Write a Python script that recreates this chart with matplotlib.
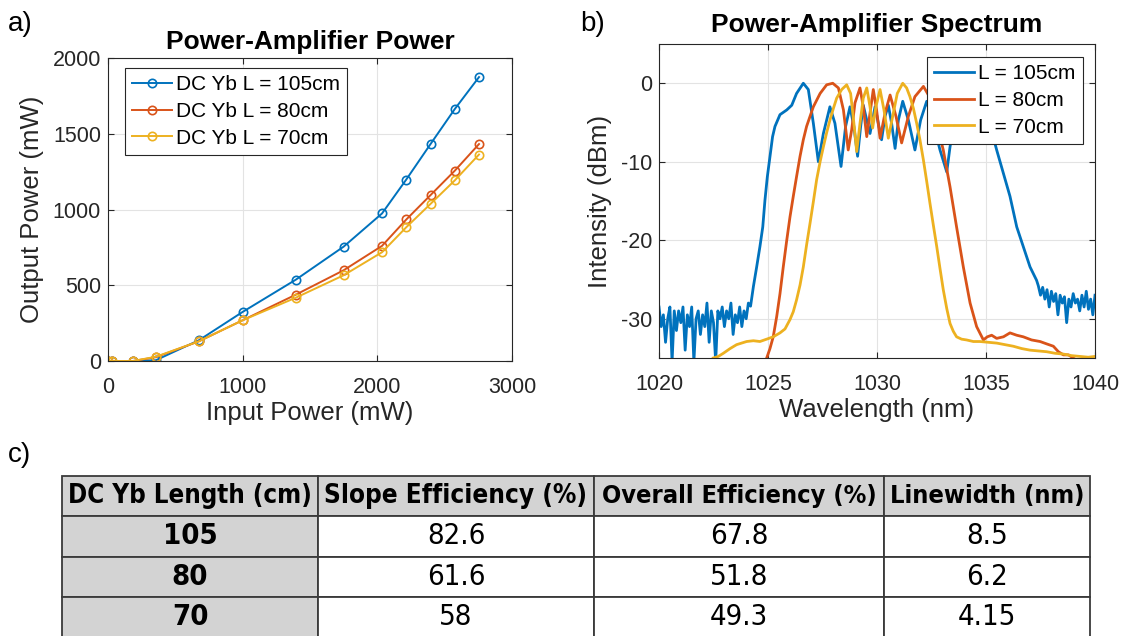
import matplotlib
matplotlib.use("Agg")
import matplotlib.pyplot as plt
import numpy as np

plt.rcParams["font.family"] = ["Liberation Sans", "DejaVu Sans"]
plt.rcParams["axes.unicode_minus"] = False

# ---- panel a: amplifier output power ----
p_in = [0, 30, 185, 355, 675, 1000, 1395, 1750, 2035, 2215, 2395, 2575, 2755]
p_out_105 = [0, 0, 0, 5, 137, 324, 537, 755, 974, 1198, 1432, 1663, 1874]
p_out_80 = [0, 0, 0, 25, 130, 269, 438, 599, 760, 934, 1095, 1256, 1432]
p_out_70 = [0, 0, 0, 28, 130, 269, 418, 566, 718, 883, 1037, 1192, 1363]

# ---- panel b: spectra ----
wl_105 = [1020.0, 1020.1, 1020.2, 1020.3, 1020.4, 1020.5, 1020.6, 1020.7, 1020.8, 1020.9,
          1021.0, 1021.1, 1021.2, 1021.3, 1021.4, 1021.5, 1021.6, 1021.7, 1021.8, 1021.9,
          1022.0, 1022.1, 1022.2, 1022.3, 1022.4, 1022.5, 1022.6, 1022.7, 1022.8, 1022.9,
          1023.0, 1023.1, 1023.2, 1023.3, 1023.4, 1023.5, 1023.6, 1023.7, 1023.8, 1023.9,
          1024.0, 1024.1, 1024.2, 1024.33, 1024.48, 1024.63, 1024.76, 1024.86, 1024.97, 1025.09,
          1025.21, 1025.32, 1025.55, 1025.86, 1026.09, 1026.31, 1026.62, 1026.85, 1027.08, 1027.31,
          1027.54, 1027.84, 1028.07, 1028.35, 1028.56, 1028.76, 1028.94, 1029.11, 1029.25, 1029.37,
          1029.53, 1029.68, 1029.91, 1030.06, 1030.21, 1030.37, 1030.52, 1030.67, 1030.83, 1030.98,
          1031.18, 1031.44, 1031.74, 1032.0, 1032.28, 1032.58, 1032.89, 1033.2, 1033.35, 1033.6,
          1033.9, 1034.2, 1034.5, 1034.9, 1035.2, 1035.49, 1035.8, 1036.1, 1036.41, 1036.71,
          1037.02, 1037.32, 1037.4, 1037.5, 1037.6, 1037.7, 1037.8, 1037.9, 1038.0, 1038.1,
          1038.2, 1038.3, 1038.4, 1038.5, 1038.6, 1038.7, 1038.8, 1038.9, 1039.0, 1039.1,
          1039.2, 1039.3, 1039.4, 1039.5, 1039.6, 1039.7, 1039.8, 1039.9, 1040.0]
db_105 = [-28.5, -31.0, -29.5, -33.0, -30.0, -28.5, -35.5, -29.0, -31.5, -29.0,
          -30.5, -28.5, -34.0, -29.5, -31.0, -28.5, -35.5, -30.0, -29.0, -32.0,
          -29.5, -31.0, -28.0, -33.0, -29.0, -30.5, -35.5, -29.0, -30.0, -28.5,
          -31.0, -29.0, -30.0, -28.0, -32.0, -29.5, -30.5, -28.5, -31.0, -29.0,
          -30.0, -28.0, -28.4, -25.9, -23.4, -20.8, -18.3, -14.9, -11.9, -9.3,
          -6.8, -5.5, -4.0, -3.4, -2.8, -1.3, 0.0, -0.8, -5.1, -10.0,
          -6.4, -3.0, -5.1, -10.6, -5.5, -3.0, -5.5, -9.3, -5.5, -2.8,
          -4.7, -6.4, -3.0, -5.1, -7.2, -4.2, -2.8, -5.1, -8.3, -4.7,
          -2.3, -4.7, -8.5, -4.7, -2.3, -5.1, -8.5, -11.3, -8.1, -4.0,
          -1.0, 0.0, -1.5, -3.5, -5.5, -8.5, -11.5, -14.4, -18.3, -20.8,
          -23.4, -25.1, -25.8, -27.0, -26.0, -27.5, -26.3, -28.5, -26.5, -27.8,
          -26.8, -29.5, -27.0, -28.0, -27.2, -30.5, -27.5, -28.5, -26.8, -28.0,
          -27.5, -29.0, -27.0, -28.5, -26.5, -28.8, -27.5, -29.5, -27.0]

wl_80 = [1024.94, 1025.09, 1025.24, 1025.4, 1025.55, 1025.7, 1025.86, 1026.01, 1026.16, 1026.31,
         1026.47, 1026.62, 1026.77, 1026.93, 1027.08, 1027.39, 1027.69, 1027.97, 1028.23, 1028.46,
         1028.68, 1028.84, 1028.99, 1029.22, 1029.37, 1029.53, 1029.68, 1029.83, 1029.98, 1030.14,
         1030.37, 1030.6, 1030.87, 1031.13, 1031.44, 1031.74, 1032.13, 1032.4, 1032.66, 1033.04,
         1033.35, 1033.65, 1033.96, 1034.27, 1034.57, 1034.88, 1035.06, 1035.26, 1035.49, 1035.8,
         1036.1, 1036.41, 1036.71, 1037.09, 1037.48, 1037.78, 1038.09, 1038.32, 1038.55, 1038.78,
         1039.0, 1039.3]
db_80 = [-35.0, -33.8, -32.3, -29.7, -26.8, -23.4, -20.0, -17.0, -14.4, -11.9,
         -9.3, -7.2, -5.5, -4.2, -3.0, -1.3, -0.2, 0.0, -0.6, -3.4,
         -8.5, -5.9, -2.5, -0.6, -3.0, -6.8, -3.8, -0.8, -3.4, -7.0,
         -3.8, -1.5, -4.2, -7.6, -4.2, -1.7, -0.4, -1.7, -4.2, -8.5,
         -13.2, -18.3, -23.4, -28.0, -31.0, -32.7, -32.3, -32.1, -32.5, -32.3,
         -31.8, -32.1, -32.3, -32.7, -32.9, -33.2, -33.5, -34.2, -34.6, -34.6,
         -35.0, -35.5]

wl_70 = [1022.49, 1022.72, 1022.95, 1023.26, 1023.56, 1024.02, 1024.33, 1024.63, 1024.94, 1025.24,
         1025.55, 1025.78, 1026.01, 1026.16, 1026.31, 1026.47, 1026.62, 1026.77, 1026.93, 1027.08,
         1027.23, 1027.39, 1027.54, 1027.69, 1027.84, 1028.0, 1028.15, 1028.38, 1028.61, 1028.79,
         1028.94, 1029.07, 1029.22, 1029.37, 1029.53, 1029.68, 1029.8, 1029.95, 1030.14, 1030.32,
         1030.52, 1030.72, 1030.93, 1031.18, 1031.36, 1031.51, 1031.67, 1031.82, 1031.97, 1032.13,
         1032.28, 1032.43, 1032.58, 1032.74, 1032.89, 1033.04, 1033.2, 1033.35, 1033.5, 1033.65,
         1033.88, 1034.11, 1034.42, 1034.72, 1035.11, 1035.49, 1035.87, 1036.25, 1036.64, 1037.02,
         1037.4, 1037.78, 1038.17, 1038.55, 1038.93, 1039.31, 1039.69, 1040.0]
db_70 = [-35.0, -34.8, -34.4, -33.8, -33.3, -32.9, -32.8, -32.9, -32.6, -32.3,
         -31.8, -31.3, -30.1, -29.1, -27.6, -25.7, -23.4, -20.6, -17.8, -15.1,
         -12.3, -10.0, -8.1, -6.3, -4.7, -3.2, -1.9, -0.8, -0.2, -1.3,
         -5.1, -8.7, -5.1, -1.9, -0.6, -3.0, -5.7, -3.0, -0.8, -3.4,
         -7.0, -4.2, -1.3, 0.0, -0.6, -1.7, -3.2, -5.1, -7.2, -9.8,
         -12.5, -15.3, -18.0, -20.8, -23.6, -26.3, -28.7, -30.6, -31.6, -32.3,
         -32.6, -32.7, -32.9, -32.9, -33.0, -33.1, -33.3, -33.5, -33.8, -34.0,
         -34.1, -34.2, -34.4, -34.5, -34.7, -34.8, -34.9, -34.8]

# ---- panel c: table ----
col_labels = ["DC Yb Length (cm)", "Slope Efficiency (%)", "Overall Efficiency (%)", "Linewidth (nm)"]
fiber_len = ["105", "80", "70"]
slope_eff = ["82.6", "61.6", "58"]
overall_eff = ["67.8", "51.8", "49.3"]
linewidth = ["8.5", "6.2", "4.15"]

C1, C2, C3 = "#0072BD", "#D95319", "#EDB120"
AXC = "#262626"
W, H = 1127, 636


def fa(x0, y0, x1, y1):
    # pixel box (top-left origin) -> figure fraction rect
    return [x0 / W, 1 - y1 / H, (x1 - x0) / W, (y1 - y0) / H]


def matlab_axes(ax):
    for s in ax.spines.values():
        s.set_color(AXC)
        s.set_linewidth(0.8)
    ax.tick_params(direction="in", top=True, right=True, length=4, width=0.8,
                   colors=AXC, labelsize=15.5)
    ax.tick_params(axis="x", pad=11.5)
    ax.tick_params(axis="y", pad=5)
    ax.grid(True, color="#e3e3e3", linewidth=0.8)
    ax.set_axisbelow(True)


leg_kw = dict(loc="upper left", borderaxespad=0, fontsize=15, handlelength=1.9,
              labelspacing=0.37, handletextpad=0.2, borderpad=0.35, fancybox=False,
              framealpha=1, edgecolor=AXC)

fig = plt.figure(figsize=(11.27, 6.36), dpi=100)

# a)
ax1 = fig.add_axes(fa(108, 58, 512, 361))
ms = dict(marker="o", markersize=6, markerfacecolor="none", markeredgewidth=1.2, linewidth=1.4)
ax1.plot(p_in, p_out_105, color=C1, label="DC Yb L = 105cm", **ms)
ax1.plot(p_in, p_out_80, color=C2, label="DC Yb L = 80cm", **ms)
ax1.plot(p_in, p_out_70, color=C3, label="DC Yb L = 70cm", **ms)
ax1.set_xlim(0, 3000)
ax1.set_ylim(0, 2000)
ax1.set_xticks([0, 1000, 2000, 3000])
ax1.set_yticks([0, 500, 1000, 1500, 2000])
matlab_axes(ax1)
ax1.set_xlabel("Input Power (mW)", fontsize=18.5, color=AXC, labelpad=2)
ax1.set_ylabel("Output Power (mW)", fontsize=18.5, color=AXC, labelpad=6)
leg = ax1.legend(bbox_to_anchor=(0.042, 0.967), **leg_kw)
leg.get_frame().set_linewidth(0.8)

# b)
ax2 = fig.add_axes(fa(659, 44, 1095, 358))
ax2.plot(wl_105, db_105, color=C1, linewidth=2, label="L = 105cm")
ax2.plot(wl_80, db_80, color=C2, linewidth=2, label="L = 80cm")
ax2.plot(wl_70, db_70, color=C3, linewidth=2, label="L = 70cm")
ax2.set_xlim(1020, 1040)
ax2.set_ylim(-35, 5)
ax2.set_xticks([1020, 1025, 1030, 1035, 1040])
ax2.set_yticks([-30, -20, -10, 0])
matlab_axes(ax2)
ax2.set_xlabel("Wavelength (nm)", fontsize=18.5, color=AXC, labelpad=2)
ax2.set_ylabel("Intensity (dBm)", fontsize=18.5, color=AXC, labelpad=6)
leg2 = ax2.legend(bbox_to_anchor=(0.615, 0.959), **leg_kw)
leg2.get_frame().set_linewidth(0.8)

# titles and panel letters
fig.text(310 / W, 1 - 42 / H, "Power-Amplifier Power", ha="center", va="center",
         fontsize=19, fontweight="bold")
fig.text(877 / W, 1 - 25 / H, "Power-Amplifier Spectrum", ha="center", va="center",
         fontsize=19, fontweight="bold")
fig.text(8 / W, 1 - 24 / H, "a)", ha="left", va="center", fontsize=20)
fig.text(580 / W, 1 - 24 / H, "b)", ha="left", va="center", fontsize=20)
fig.text(8 / W, 1 - 455 / H, "c)", ha="left", va="center", fontsize=20)

# c) table
ax3 = fig.add_axes(fa(62, 476, 1090, 637))
ax3.axis("off")
rows = [list(r) for r in zip(fiber_len, slope_eff, overall_eff, linewidth)]
col_w = np.array([256, 276, 290, 206], dtype=float)
tbl = ax3.table(cellText=rows, colLabels=col_labels, colWidths=list(col_w / col_w.sum()),
                cellLoc="center", bbox=[0, 0, 1, 1])
tbl.auto_set_font_size(False)
for (r, c), cell in tbl.get_celld().items():
    cell.set_edgecolor("#3a3a3a")
    cell.set_linewidth(1.3)
    bold = r == 0 or c == 0
    cell.set_facecolor("#d3d3d3" if bold else "white")
    t = cell.get_text()
    t.set_fontsize(21)
    t.set_fontfamily(["DejaVu Sans"])
    t.set_fontstretch("condensed")
    t.set_fontweight("bold" if bold else "normal")

# shrink header text that would spill out of its cell
fig.canvas.draw()
renderer = fig.canvas.get_renderer()
for c in range(len(col_labels)):
    cell = tbl[0, c]
    t = cell.get_text()
    cw = cell.get_window_extent(renderer).width * 0.95
    tw = t.get_window_extent(renderer).width
    if tw > cw:
        t.set_fontsize(21 * cw / tw)

fig.savefig("out.png", dpi=100)
